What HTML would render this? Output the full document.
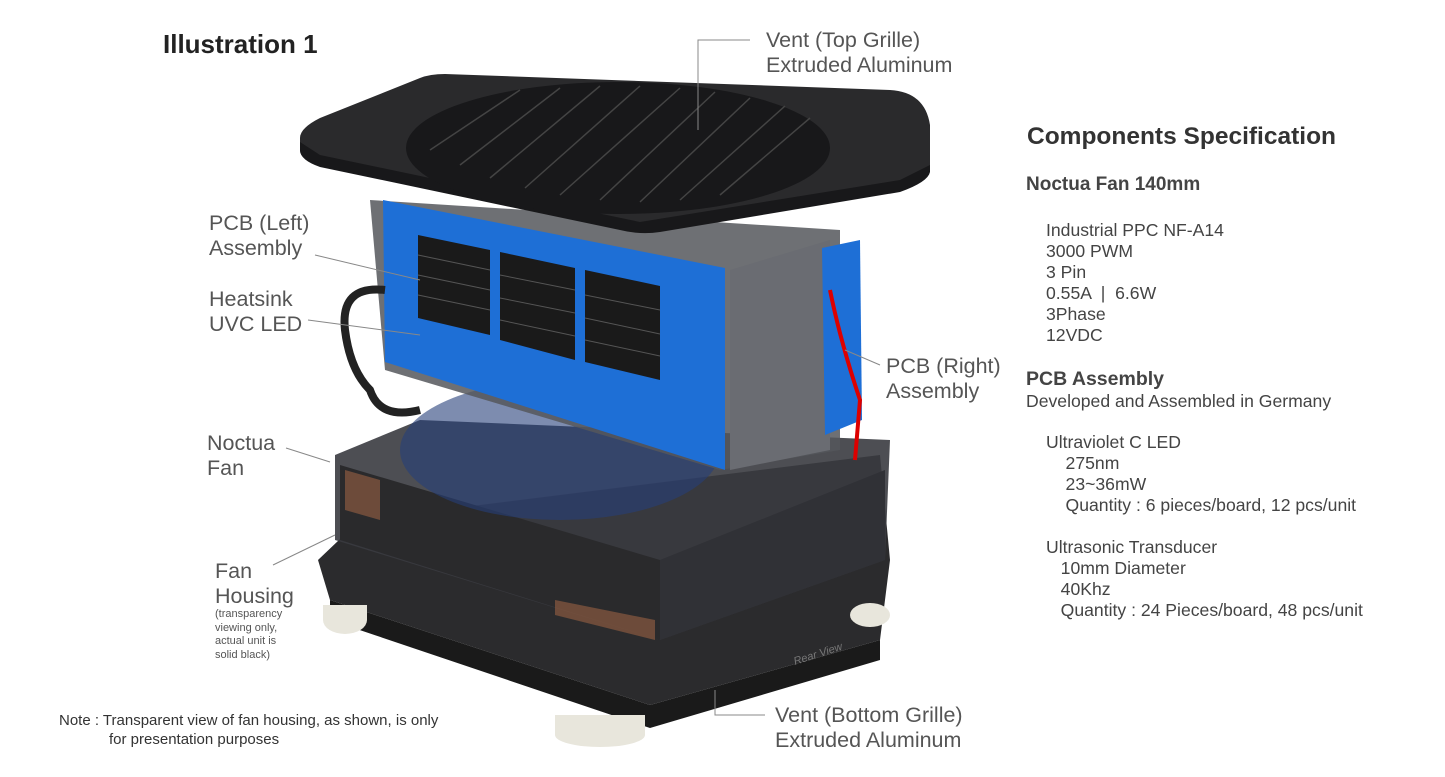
<!DOCTYPE html>
<html><head><meta charset="utf-8"><style>
body{margin:0;width:1445px;height:777px;background:#fff;position:relative;overflow:hidden;font-family:"Liberation Sans",sans-serif;color:#444}
.t{position:absolute;white-space:nowrap}
.lab{font-size:21.5px;line-height:25px;color:#555}
.sp{font-size:17.6px;line-height:21px;color:#444}
</style></head><body>
<svg width="1445" height="777" style="position:absolute;left:0;top:0">
<!-- base -->
<polygon points="318,560 360,520 880,455 890,560 880,640 650,705 330,600" fill="#2b2b2d"/>
<polygon points="330,600 650,705 880,640 880,660 650,728 330,620" fill="#1a1a1a"/>
<ellipse cx="345" cy="620" rx="22" ry="14" fill="#e8e6dc"/>
<rect x="323" y="605" width="44" height="15" fill="#e8e6dc"/>
<ellipse cx="600" cy="735" rx="45" ry="12" fill="#e8e6dc"/>
<rect x="555" y="715" width="90" height="20" fill="#e8e6dc"/>
<ellipse cx="870" cy="615" rx="20" ry="12" fill="#e8e6dc"/>
<!-- fan housing -->
<polygon points="335,455 420,420 890,440 885,560 660,640 335,540" fill="#3a3b40" opacity="0.9"/>
<polygon points="340,465 660,560 660,640 340,540" fill="#2a2a2c"/>
<polygon points="660,560 885,470 885,560 660,640" fill="#303136"/>
<polygon points="345,470 380,480 380,520 345,510" fill="#8a5a40" opacity="0.7"/>
<polygon points="555,600 655,620 655,640 555,615" fill="#8a5a40" opacity="0.7"/>
<ellipse cx="560" cy="450" rx="160" ry="70" fill="#27407a" opacity="0.6"/>
<!-- body column -->
<polygon points="370,200 840,230 840,450 720,470 385,370" fill="#55575c" opacity="0.85"/>
<polygon points="730,270 830,240 830,450 730,470" fill="#6a6c72"/>
<!-- blue PCB left -->
<polygon points="383,200 725,268 725,470 385,362" fill="#1e6fd6"/>
<g fill="#1a1a1a">
<polygon points="418,235 490,250 490,335 418,318"/>
<polygon points="500,252 575,268 575,360 500,340"/>
<polygon points="585,270 660,286 660,380 585,362"/>
</g>
<g stroke="#555" stroke-width="1">
<line x1="418" y1="255" x2="490" y2="270"/><line x1="418" y1="275" x2="490" y2="290"/><line x1="418" y1="295" x2="490" y2="310"/>
<line x1="500" y1="275" x2="575" y2="290"/><line x1="500" y1="298" x2="575" y2="313"/><line x1="500" y1="320" x2="575" y2="336"/>
<line x1="585" y1="295" x2="660" y2="310"/><line x1="585" y1="318" x2="660" y2="334"/><line x1="585" y1="340" x2="660" y2="356"/>
</g>
<!-- right PCB strip -->
<polygon points="822,248 860,240 862,420 825,435" fill="#1e6fd6"/>
<path d="M830 290 Q840 340 860 400 L855 460" stroke="#d00" stroke-width="4" fill="none"/>
<!-- cable left -->
<path d="M385 290 Q340 285 345 330 Q350 370 370 390 Q380 420 420 410" stroke="#222" stroke-width="8" fill="none"/>
<!-- top plate -->
<path d="M300,138 Q300,128 320,118 L420,78 Q430,74 445,74 L890,90 Q925,92 930,125 L930,170 Q928,180 900,190 L660,230 Q640,233 620,228 L320,165 Q300,160 300,150 Z" fill="#2a2a2c"/>
<path d="M300,142 L320,155 L640,222 L900,180 L930,165 L930,172 Q928,182 900,192 L660,232 Q640,235 620,230 L320,167 Q300,160 300,150 Z" fill="#18181a"/>
<ellipse cx="618" cy="148" rx="212" ry="66" fill="#18181a"/>
<g stroke="#444" stroke-width="1.5">
<line x1="430" y1="150" x2="520" y2="90"/><line x1="460" y1="165" x2="560" y2="88"/><line x1="490" y1="178" x2="600" y2="86"/>
<line x1="525" y1="188" x2="640" y2="86"/><line x1="560" y1="195" x2="680" y2="88"/><line x1="600" y1="200" x2="715" y2="92"/>
<line x1="640" y1="202" x2="750" y2="98"/><line x1="680" y1="200" x2="785" y2="106"/><line x1="720" y1="195" x2="810" y2="118"/>
</g>
<!-- leader lines -->
<g stroke="#888" stroke-width="1" fill="none">
<polyline points="750,40 698,40 698,130"/>
<line x1="315" y1="255" x2="420" y2="280"/>
<line x1="308" y1="320" x2="420" y2="335"/>
<line x1="286" y1="448" x2="330" y2="462"/>
<line x1="273" y1="565" x2="335" y2="535"/>
<line x1="880" y1="365" x2="845" y2="350"/>
<polyline points="765,715 715,715 715,690"/>
</g>
<text x="795" y="665" font-size="11" fill="#777" font-style="italic" transform="rotate(-18 795 665)" font-family="Liberation Sans">Rear View</text>
</svg>
<div class="t" style="left:163px;top:29px;font-size:26px;font-weight:bold;color:#222">Illustration 1</div>
<div class="t lab" style="left:766px;top:28px">Vent (Top Grille)<br>Extruded Aluminum</div>
<div class="t lab" style="left:209px;top:211px">PCB (Left)<br>Assembly</div>
<div class="t lab" style="left:209px;top:287px">Heatsink<br>UVC LED</div>
<div class="t lab" style="left:207px;top:431px">Noctua<br>Fan</div>
<div class="t lab" style="left:215px;top:559px">Fan<br>Housing</div>
<div class="t" style="left:215px;top:608px;font-size:11px;line-height:13.5px;color:#555">(transparency<br>viewing only,<br>actual unit is<br>solid black)</div>
<div class="t lab" style="left:886px;top:354px">PCB (Right)<br>Assembly</div>
<div class="t lab" style="left:775px;top:703px">Vent (Bottom Grille)<br>Extruded Aluminum</div>
<div class="t" style="left:59px;top:711px;font-size:15px;line-height:19px;color:#333">Note : Transparent view of fan housing, as shown, is only<br>&nbsp;&nbsp;&nbsp;&nbsp;&nbsp;&nbsp;&nbsp;&nbsp;&nbsp;&nbsp;&nbsp;&nbsp;for presentation purposes</div>
<div class="t" style="left:1027px;top:123px;font-size:24.5px;font-weight:bold;color:#333">Components Specification</div>
<div class="t" style="left:1026px;top:174px;font-size:19px;font-weight:bold;color:#444">Noctua Fan 140mm</div>
<div class="t sp" style="left:1046px;top:220px">Industrial PPC NF-A14<br>3000 PWM<br>3 Pin<br>0.55A &nbsp;| &nbsp;6.6W<br>3Phase<br>12VDC</div>
<div class="t" style="left:1026px;top:368px;font-size:19.5px;font-weight:bold;color:#444">PCB Assembly</div>
<div class="t sp" style="left:1026px;top:391px">Developed and Assembled in Germany</div>
<div class="t sp" style="left:1046px;top:432px">Ultraviolet C LED<br>&nbsp;&nbsp;&nbsp;&nbsp;275nm<br>&nbsp;&nbsp;&nbsp;&nbsp;23~36mW<br>&nbsp;&nbsp;&nbsp;&nbsp;Quantity : 6 pieces/board, 12 pcs/unit</div>
<div class="t sp" style="left:1046px;top:537px">Ultrasonic Transducer<br>&nbsp;&nbsp;&nbsp;10mm Diameter<br>&nbsp;&nbsp;&nbsp;40Khz<br>&nbsp;&nbsp;&nbsp;Quantity : 24 Pieces/board, 48 pcs/unit</div>
</body></html>
